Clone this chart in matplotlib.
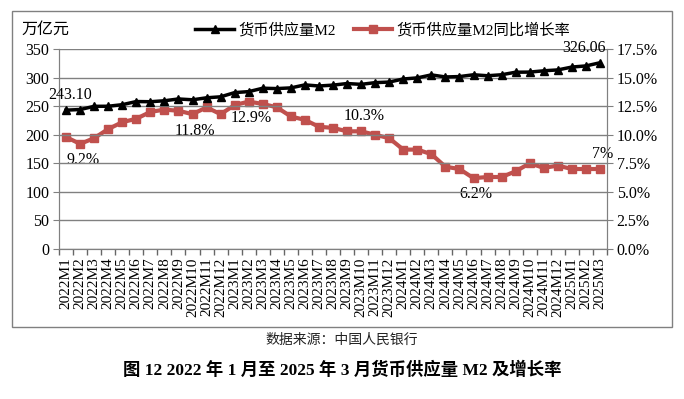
import matplotlib
matplotlib.use("Agg")
import matplotlib.pyplot as plt
from matplotlib.patches import Rectangle
from matplotlib.ticker import FuncFormatter, MultipleLocator

plt.rcParams['font.family'] = ['Liberation Serif', 'Noto Sans CJK SC', 'DejaVu Sans']

months = []
for yr, n in [(2022, 12), (2023, 12), (2024, 12), (2025, 3)]:
    for m in range(1, n + 1):
        months.append(f"{yr}M{m}")

m2 = [243.10, 244.15, 249.77, 249.90, 252.65, 258.15, 257.81, 259.51, 262.66, 261.21, 264.70, 266.43,
      273.81, 275.52, 281.46, 280.85, 282.05, 287.30, 285.36, 286.89, 289.67, 288.23, 291.25, 292.27,
      297.62, 299.56, 304.80, 301.19, 301.85, 305.02, 303.31, 305.05, 309.48, 309.71, 311.96, 313.53,
      318.52, 320.52, 326.06]
growth = [9.8, 9.2, 9.7, 10.5, 11.1, 11.4, 12.0, 12.2, 12.1, 11.8, 12.4, 11.8,
          12.6, 12.9, 12.7, 12.4, 11.6, 11.3, 10.7, 10.6, 10.3, 10.3, 10.0, 9.7,
          8.7, 8.7, 8.3, 7.2, 7.0, 6.2, 6.3, 6.3, 6.8, 7.5, 7.1, 7.3,
          7.0, 7.0, 7.0]

# labelled points: (index, text, horizontal offset, alignment)
m2_labels = [(0, "243.10", 3, "center"), (38, "326.06", 4, "right")]
growth_labels = [(1, "9.2%", False), (9, "11.8%", False), (13, "12.9%", False),
                 (21, "10.3%", True), (29, "6.2%", False), (38, "7%", True)]

red = "#C0504D"
grey = "#808080"
x = list(range(len(months)))

fig = plt.figure(figsize=(6.84, 3.99), dpi=100)
fig.patches.append(Rectangle((0.0175, 0.18), 0.965, 0.792, transform=fig.transFigure,
                             fill=False, edgecolor=grey, linewidth=1))

ax = fig.add_axes([0.0863, 0.376, 0.8011, 0.501])
ax2 = ax.twinx()

l1, = ax.plot(x, m2, color="black", linewidth=2.5, marker="^", markersize=6, label="货币供应量M2", zorder=3)
l2, = ax2.plot(x, growth, color=red, linewidth=3, marker="s", markersize=5.5, label="货币供应量M2同比增长率")

ax.set_ylim(0, 350)
ax.yaxis.set_major_locator(MultipleLocator(50))
ax2.set_ylim(0, 17.5)
ax2.yaxis.set_major_locator(MultipleLocator(2.5))
ax2.yaxis.set_major_formatter(FuncFormatter(lambda v, p: f"{v:.1f}%"))
ax.set_xlim(-0.5, len(months) - 0.5)
ax.set_xticks(x)
ax.set_xticklabels(months, rotation=90, fontsize=11)
ax.set_xticks([i - 0.5 for i in range(len(months) + 1)], minor=True)
ax.tick_params(axis="x", which="major", length=0, pad=6)
ax.tick_params(axis="x", which="minor", length=4, width=1, color="#666666")
ax.tick_params(axis="y", labelsize=11.5, length=4, color=grey, pad=3)
ax2.tick_params(axis="y", labelsize=11.5, length=4, color=grey, pad=3)

ax.grid(axis="y", color=grey, linewidth=1)
ax.set_axisbelow(True)
for a in (ax, ax2):
    a.spines["top"].set_visible(False)
    for s in ("left", "right", "bottom"):
        a.spines[s].set_color(grey)
ax.set_zorder(ax2.get_zorder() + 1)
ax.patch.set_visible(False)

for i, t, dx, ha in m2_labels:
    ax.annotate(t, (i, m2[i]), xytext=(dx, 5), textcoords="offset points",
                ha=ha, va="bottom", fontsize=11.5)
for i, t, above in growth_labels:
    ax2.annotate(t, (i, growth[i]), xytext=(2, 5 if above else -6), textcoords="offset points",
                 ha="center", va="bottom" if above else "top", fontsize=11.5)

fig.text(0.032, 0.925, "万亿元", fontsize=11.5, ha="left", va="center")
fig.legend(handles=[l1, l2], loc="center", bbox_to_anchor=(0.56, 0.925), ncol=2, frameon=False,
           fontsize=11, handlelength=2.5, columnspacing=1.2, handletextpad=0.3)

fig.text(0.5, 0.148, "数据来源：中国人民银行", ha="center", va="center", fontsize=10, color="#222222")
fig.text(0.5, 0.073, "图 12 2022 年 1 月至 2025 年 3 月货币供应量 M2 及增长率", ha="center", va="center",
         fontsize=12.5, fontweight="bold")

fig.savefig("out.png", dpi=100)
